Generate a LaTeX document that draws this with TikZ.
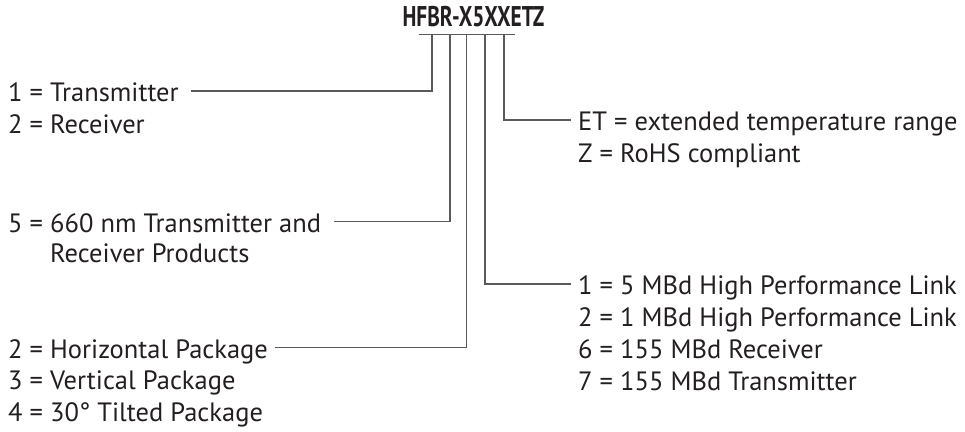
\documentclass[tikz,border=0pt]{standalone}
\usepackage{fontspec}
\setmainfont{PT Sans}
\newfontfamily\titlefont[FakeStretch=0.75]{PT Sans}
\usetikzlibrary{positioning}
\definecolor{ink}{HTML}{231F20}
\definecolor{leadgray}{HTML}{5A5A5A}

\begin{document}
\begin{tikzpicture}[x=1pt,y=-1pt,
  txt/.style={inner sep=0pt,text height=21pt,text depth=0pt,text=ink,font=\fontsize{26.5}{30}\selectfont},
  lead/.style={line width=1.2pt,leadgray}]
\useasboundingbox (0,0) rectangle (965,431);
% part number and the bar under it
\node[anchor=base,inner sep=0pt,text=ink,font=\titlefont\bfseries\fontsize{28.5}{30}\selectfont] (pn) at (473.5,26) {HFBR-X5XXETZ};
\coordinate (barl) at (419,34.7);
\coordinate (barr) at (515,34.7);
\draw[lead] (barl) -- (barr);
\coordinate (tap1) at (432,34.7);
\coordinate (tap2) at (450,34.7);
\coordinate (tap3) at (466.5,34.7);
\coordinate (tap4) at (485,34.7);
\coordinate (tap5) at (504,34.7);

% left side
\node[txt,anchor=base west] (tx) at (8,101.5) {1 = Transmitter};
\node[txt,below right=10.5pt and 0pt of tx.south west] (rx) {2 = Receiver};
\node[txt,anchor=base west] (nm) at (8,232) {5 = 660 nm Transmitter and};
\node[txt,below right=9pt and 0pt of nm.south west] (prod) {\hphantom{5 = }Receiver Products};
\node[txt,anchor=base west] (hor) at (8,358) {2 = Horizontal Package};
\node[txt,below right=10.5pt and 0pt of hor.south west] (ver) {3 = Vertical Package};
\node[txt,below right=10.5pt and 0pt of ver.south west] (tilt) {4 = 30° Tilted Package};

% right side
\node[txt,anchor=base west] (et) at (578,130.5) {ET = extended temperature range};
\node[txt,below right=10.5pt and 0pt of et.south west] (rohs) {Z = RoHS compliant};
\node[txt,anchor=base west] (hp5) at (578,294.5) {1 = 5 MBd High Performance Link};
\node[txt,below right=10.5pt and 0pt of hp5.south west] (hp1) {2 = 1 MBd High Performance Link};
\node[txt,below right=10.5pt and 0pt of hp1.south west] (rx155) {6 = 155 MBd Receiver};
\node[txt,below right=10.5pt and 0pt of rx155.south west] (tx155) {7 = 155 MBd Transmitter};

% leaders
\draw[lead,shorten >=12pt] (tap1) |- (tx.east);
\draw[lead,shorten >=13pt] (tap2) |- (nm.east);
\draw[lead,shorten >=7pt] (tap3) |- (hor.east);
\draw[lead,shorten >=7pt] (tap4) |- (hp5.west);
\draw[lead,shorten >=7pt] (tap5) |- (et.west);
\end{tikzpicture}
\end{document}
